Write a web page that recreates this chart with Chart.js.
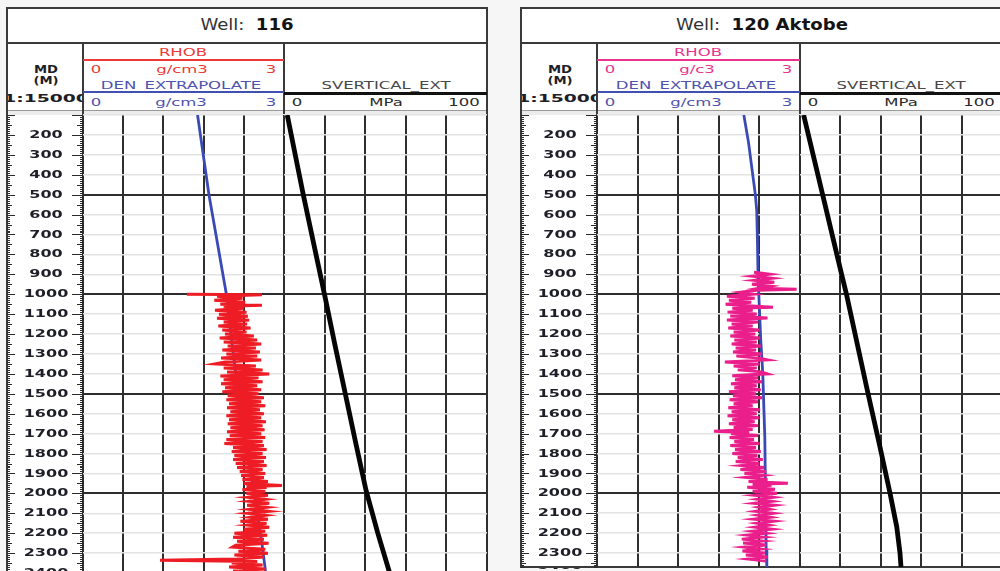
<!DOCTYPE html>
<html>
<head>
<meta charset="utf-8">
<script src="https://cdn.jsdelivr.net/npm/chart.js@4.4.1/dist/chart.umd.min.js"></script>
<style>
  html, body { margin: 0; padding: 0; }
  body {
    width: 1000px; height: 571px; overflow: hidden; position: relative;
    background: #f6f6f6; font-family: "DejaVu Sans", Verdana, sans-serif;
  }
  .box { position: absolute; box-sizing: border-box; background: #fff; }
  .ln { position: absolute; }
  .t {
    position: absolute; white-space: nowrap; line-height: 1;
    transform: translate(-50%, -50%) scaleX(1.5); font-size: 11px;
  }
  .clip { position: absolute; overflow: hidden; }
  canvas { position: absolute; }
</style>
</head>
<body>
<script>
// ---- shared axis values ----
const depthLabels = [200, 300, 400, 500, 600, 700, 800, 900, 1000, 1100, 1200, 1300,
  1400, 1500, 1600, 1700, 1800, 1900, 2000, 2100, 2200, 2300, 2400];
const depthGrid = [100, 200, 300, 400, 500, 600, 700, 800, 900, 1000, 1100, 1200, 1300,
  1400, 1500, 1600, 1700, 1800, 1900, 2000, 2100, 2200, 2300, 2400];
const densityTicks = [0, 0.6, 1.2, 1.8, 2.4, 3];
const stressTicks = [0, 20, 40, 60, 80, 100];

// ---- Well 116 ----
const w116DenDepth = [100, 500, 1000, 1290, 1450, 1760, 2000, 2185, 2250, 2380, 2450];
const w116Den = [1.71, 1.88, 2.14, 2.24, 2.30, 2.43, 2.56, 2.64, 2.67, 2.72, 2.74];

const w116RhobDepth = [
  1000, 1002, 1010, 1020, 1030, 1040, 1050, 1055, 1060, 1070, 1080, 1090,
  1100, 1110, 1120, 1130, 1140, 1150, 1160, 1170, 1180, 1190,
  1200, 1210, 1220, 1230, 1240, 1250, 1260, 1270, 1280, 1290,
  1300, 1310, 1320, 1330, 1340, 1350, 1360, 1370, 1380, 1390,
  1400, 1410, 1420, 1430, 1440, 1450, 1460, 1470, 1480, 1490,
  1500, 1510, 1520, 1530, 1540, 1550, 1560, 1570, 1580, 1590,
  1600, 1610, 1620, 1630, 1640, 1650, 1660, 1670, 1680, 1690,
  1700, 1710, 1720, 1730, 1740, 1750, 1760, 1770, 1780, 1790,
  1800, 1810, 1820, 1830, 1840, 1850, 1860, 1870, 1880, 1890,
  1900, 1910, 1920, 1930, 1940, 1950, 1960, 1965, 1970, 1980, 1990,
  2000, 2010, 2020, 2030, 2040, 2050, 2060, 2070, 2080, 2090,
  2100, 2110, 2120, 2130, 2140, 2150, 2160, 2170, 2180, 2190,
  2200, 2210, 2220, 2230, 2240, 2250, 2260, 2270, 2280, 2290,
  2300, 2310, 2320, 2330, 2336, 2342, 2350, 2360, 2370, 2380, 2390,
  2400, 2410, 2420, 2430, 2440, 2450];
const w116Rhob = [
  1.55, 2.67, 2.00, 2.38, 1.96, 2.42, 2.05, 2.67, 2.10, 2.40, 1.97, 2.44,
  2.03, 2.46, 2.00, 2.48, 2.10, 2.45, 2.02, 2.50, 2.08, 2.44,
  2.12, 2.55, 2.04, 2.60, 2.10, 2.66, 2.16, 2.58, 2.08, 2.64,
  2.14, 2.60, 2.06, 2.66, 2.12, 1.97, 2.58, 2.10, 2.68, 2.15,
  2.78, 2.05, 2.62, 2.10, 2.68, 2.06, 2.60, 2.12, 2.66, 2.08,
  2.62, 2.16, 2.70, 2.14, 2.66, 2.18, 2.72, 2.15, 2.64, 2.20,
  2.70, 2.14, 2.66, 2.18, 2.73, 2.16, 2.68, 2.20, 2.71, 2.15,
  2.66, 2.19, 2.72, 2.14, 2.68, 2.11, 2.70, 2.24, 2.74, 2.22,
  2.68, 2.26, 2.73, 2.24, 2.70, 2.28, 2.74, 2.30, 2.68, 2.34,
  2.72, 2.36, 2.70, 2.38, 2.76, 2.40, 2.97, 2.44, 2.74, 2.38, 2.72,
  2.44, 2.76, 2.46, 2.72, 2.48, 2.78, 2.45, 2.74, 2.49, 2.77,
  2.46, 2.72, 2.50, 2.76, 2.35, 2.74, 2.47, 2.78, 2.40, 2.72,
  2.26, 2.75, 2.24, 2.70, 2.30, 2.77, 2.28, 2.23, 2.72, 2.32,
  2.76, 2.26, 2.70, 2.30, 1.15, 2.60, 2.22, 2.68, 2.18, 2.72, 2.24,
  2.66, 2.20, 2.70, 2.26, 2.64, 2.22];

const w116SvDepth = [100, 500, 1013, 1250, 1500, 1750, 1984, 2200, 2391, 2450];
const w116Sv = [1.6, 9.5, 20.2, 25.0, 30.2, 35.4, 40.4, 46.2, 51.8, 53.5];

// ---- Well 120 Aktobe ----
const w120DenDepth = [100, 240, 500, 577, 713, 914, 1230, 1400, 1720, 2000, 2285, 2370];
const w120Den = [2.17, 2.24, 2.34, 2.36, 2.37, 2.38, 2.42, 2.45, 2.48, 2.49, 2.50, 2.51];

const w120RhobDepth = [
  890, 900, 910, 920, 930, 940, 950, 960, 970, 975, 980, 990,
  1000, 1010, 1020, 1030, 1040, 1050, 1060, 1065, 1070, 1080, 1090,
  1100, 1110, 1120, 1130, 1140, 1150, 1160, 1170, 1180, 1190,
  1200, 1210, 1220, 1230, 1240, 1250, 1260, 1270, 1280, 1290,
  1300, 1310, 1320, 1330, 1340, 1350, 1360, 1370, 1380, 1390,
  1400, 1410, 1420, 1430, 1440, 1450, 1460, 1470, 1480, 1490,
  1500, 1510, 1520, 1530, 1540, 1550, 1560, 1570, 1580, 1590,
  1600, 1610, 1620, 1630, 1640, 1650, 1660, 1670, 1680, 1688, 1695,
  1700, 1710, 1720, 1730, 1740, 1750, 1760, 1770, 1780, 1790,
  1800, 1810, 1820, 1830, 1840, 1850, 1860, 1870, 1880, 1890,
  1900, 1910, 1920, 1930, 1940, 1950, 1955, 1960, 1970, 1980, 1990,
  2000, 2010, 2020, 2030, 2040, 2050, 2060, 2070, 2080, 2090,
  2100, 2110, 2120, 2130, 2140, 2150, 2160, 2170, 2180, 2190,
  2200, 2210, 2220, 2230, 2240, 2250, 2260, 2270, 2280, 2290,
  2300, 2310, 2320, 2330, 2340];
const w120Rhob = [
  2.32, 2.55, 2.30, 2.58, 2.33, 2.62, 2.29, 2.56, 2.40, 2.95, 2.36, 2.12,
  2.30, 1.92, 2.33, 1.95, 2.28, 1.90, 2.35, 2.60, 2.00, 2.30, 1.93,
  2.36, 1.97, 2.52, 1.92, 2.38, 1.99, 2.30, 1.94, 2.40, 2.02,
  2.34, 1.97, 2.41, 2.03, 2.36, 1.99, 2.42, 2.05, 2.35, 2.01,
  2.44, 2.06, 2.38, 2.52, 1.89, 2.40, 2.02, 2.36, 2.08, 2.43,
  2.52, 2.00, 2.38, 2.04, 2.44, 1.98, 2.36, 2.03, 2.42, 1.95,
  2.35, 2.01, 2.44, 1.96, 2.38, 2.02, 2.30, 1.94, 2.41, 1.99,
  2.36, 1.93, 2.40, 2.00, 2.33, 1.95, 2.38, 2.02, 2.30, 1.73, 2.25,
  1.98, 2.38, 1.96, 2.32, 2.03, 2.40, 1.97, 2.35, 2.04, 2.42,
  2.00, 2.37, 2.08, 2.45, 2.05, 2.40, 2.14, 2.47, 2.12, 2.50,
  2.18, 2.45, 2.20, 2.52, 2.24, 2.82, 2.30, 2.58, 2.22, 2.63, 2.30,
  2.66, 2.34, 2.60, 2.38, 2.58, 2.33, 2.62, 2.40, 2.55, 2.35,
  2.60, 2.38, 2.56, 2.32, 2.61, 2.37, 2.54, 2.34, 2.58, 2.30,
  2.50, 2.22, 2.46, 2.14, 2.44, 2.16, 2.50, 2.18, 2.42, 2.15,
  2.48, 2.20, 2.52, 2.24, 2.50];

const w120SvDepth = [100, 500, 879, 1000, 1500, 1767, 2001, 2169, 2300, 2370];
const w120Sv = [1.8, 11.2, 20.1, 23.0, 33.7, 39.6, 44.6, 47.9, 49.5, 50.0];

// ---- layout constants ----
const TOP_DEPTH = 100;
const PX_PER_M = 0.199;
const DATA_TOP = 115;
const FRAME = '#3a3a3a';
const GRID_DARK = '#2e2e2e';
const GRID_LIGHT = '#e3e3e3';

function add(tag, cls, css, text) {
  const e = document.createElement(tag);
  if (cls) e.className = cls;
  Object.assign(e.style, css);
  if (text != null) e.textContent = text;
  document.body.appendChild(e);
  return e;
}
function hline(x1, x2, y, w, c) {
  add('div', 'ln', { left: x1 + 'px', top: (y - w / 2) + 'px', width: (x2 - x1) + 'px', height: w + 'px', background: c });
}
function vline(x, y1, y2, w, c) {
  add('div', 'ln', { left: (x - w / 2) + 'px', top: y1 + 'px', width: w + 'px', height: (y2 - y1) + 'px', background: c });
}
function txt(s, cx, cy, color, extra) {
  return add('div', 't', Object.assign({ left: cx + 'px', top: cy + 'px', color: color }, extra || {}), s);
}

// ruler ticks and depth numbers in the depth track, placed through the y scale
const depthRuler = {
  id: 'depthRuler',
  afterDraw(chart) {
    const s = chart.scales.y;
    const ctx = chart.ctx;
    const L = s.left, R = s.right;
    ctx.save();
    ctx.strokeStyle = '#2a2a2a';
    ctx.lineWidth = 1;
    ctx.beginPath();
    for (let d = Math.ceil(s.min / 10) * 10; d <= s.max; d += 10) {
      const y = Math.round(s.getPixelForValue(d)) + 0.5;
      const major = d % 100 === 0, mid = d % 50 === 0;
      const lenL = major ? 8 : mid ? 5 : 3;
      const lenR = major ? 11 : mid ? 6 : 3;
      ctx.moveTo(L, y); ctx.lineTo(L + lenL, y);
      ctx.moveTo(R - lenR, y); ctx.lineTo(R, y);
    }
    ctx.stroke();
    ctx.fillStyle = '#1e1e28';
    ctx.font = 'bold 10px "DejaVu Sans"';
    ctx.textAlign = 'center';
    ctx.textBaseline = 'middle';
    const cx = (L + R) / 2 + 1;
    depthLabels.forEach(v => {
      if (v < s.min || v > s.max + 60) return;
      const y = s.getPixelForValue(v);
      ctx.save();
      ctx.translate(cx, y + 0.5);
      ctx.scale(1.6, 1);
      ctx.fillText(String(v), 0, 0);
      ctx.restore();
    });
    ctx.restore();
  }
};

function depthScale(p, axisW) {
  return {
    type: 'linear', position: 'left', reverse: true, min: TOP_DEPTH, max: p.maxDepth,
    afterBuildTicks: s => { s.ticks = depthGrid.filter(v => v >= s.min && v <= s.max).map(v => ({ value: v })); },
    ticks: { display: false },
    grid: {
      drawTicks: false,
      color: c => (c.tick && c.tick.value % 500 === 0) ? GRID_DARK : GRID_LIGHT,
      lineWidth: c => (c.tick && c.tick.value % 500 === 0) ? 2 : 1.5
    },
    border: { display: false },
    afterFit: s => { s.width = axisW; }
  };
}
function valueScale(min, max, ticks) {
  return {
    type: 'linear', position: 'top', min: min, max: max,
    afterBuildTicks: s => { s.ticks = ticks.map(v => ({ value: v })); },
    ticks: { display: false },
    grid: { drawTicks: false, color: GRID_DARK, lineWidth: 2 },
    border: { display: false },
    afterFit: s => { s.height = 0; }
  };
}
function curve(depths, values, color, width) {
  return {
    data: depths.map((d, i) => ({ x: values[i], y: d })),
    showLine: true, borderColor: color, backgroundColor: color,
    borderWidth: width, pointRadius: 0, tension: 0
  };
}
function makeChart(left, top, w, h, pad, scales, datasets, plugins) {
  const c = document.createElement('canvas');
  c.width = w; c.height = h;
  c.style.left = left + 'px'; c.style.top = top + 'px';
  c.style.width = w + 'px'; c.style.height = h + 'px';
  document.body.appendChild(c);
  new Chart(c, {
    type: 'scatter',
    data: { datasets: datasets },
    options: {
      responsive: false, animation: false, devicePixelRatio: 1,
      layout: { padding: pad },
      plugins: { legend: { display: false }, tooltip: { enabled: false } },
      scales: scales
    },
    plugins: plugins || []
  });
}

function drawPanel(p) {
  const areaH = (p.maxDepth - TOP_DEPTH) * PX_PER_M;
  const bottom = DATA_TOP + areaH;
  const frameBottom = Math.min(bottom, 600);

  // frame and header boxes
  add('div', 'box', { left: p.x0 + 'px', top: '7px', width: (p.x1 - p.x0) + 'px', height: (frameBottom - 7) + 'px' });
  add('div', 'ln', { left: p.x0 + 'px', top: '110px', width: (p.x1 - p.x0) + 'px', height: '5px', background: '#ececec' });
  hline(p.x0 - 1, p.x1 + 1, 7.5, 2, FRAME);
  hline(p.x0, p.x1, 43, 1.5, FRAME);
  hline(p.x0, p.x1, 110, 1, '#9a9a9a');
  vline(p.x0, 7, frameBottom, 2, FRAME);
  vline(p.x1, 7, frameBottom, 2, FRAME);
  vline(p.xd, 43, DATA_TOP, 2, FRAME);
  vline(p.xs, 43, DATA_TOP, 2, FRAME);
  if (bottom < 571) hline(p.x0 - 1, p.x1 + 1, bottom, 2, FRAME);

  // title
  const title = add('div', 't', { left: ((p.x0 + p.x1) / 2) + 'px', top: '24.5px', fontSize: '16px', color: '#333',
    transform: 'translate(-50%, -50%) scaleX(1.13)' });
  title.appendChild(document.createTextNode('Well: '));
  const b = document.createElement('b');
  b.style.color = '#141414';
  b.style.marginLeft = '5px';
  b.textContent = p.well;
  title.appendChild(b);

  // depth header
  const dc = (p.x0 + p.xd) / 2 + 1;
  txt('MD', dc, 69, '#1e1e28', { fontWeight: 'bold', transform: 'translate(-50%, -50%) scaleX(1.2)' });
  txt('(M)', dc, 80, '#1e1e28', { fontWeight: 'bold', transform: 'translate(-50%, -50%) scaleX(1.2)' });
  const clip = add('div', 'clip', { left: (p.x0 + 1) + 'px', top: '90px', width: (p.xd - p.x0 - 2) + 'px', height: '16px' });
  const sc = add('div', 't', { left: (dc - p.x0 - 1) + 'px', top: '8px', fontWeight: 'bold', color: '#1e1e28',
    transform: 'translate(-50%, -50%) scaleX(1.7)' }, '1:15000');
  clip.appendChild(sc);

  // density header
  const mc = (p.xd + p.xs) / 2;
  txt('RHOB', mc - 1, 52, p.rhobColor);
  hline(p.xd, p.xs, 60, 2, p.rhobColor);
  txt('0', p.xd + 13, 69, p.rhobColor);
  txt(p.rhobUnit, mc - 2, 69, p.rhobColor);
  txt('3', p.xs - 13, 69, p.rhobColor);
  txt('DEN_EXTRAPOLATE', mc - 3, 85, '#4f52b0');
  hline(p.xd, p.xs, 92, 2, '#3f4fb2');
  txt('0', p.xd + 13, 102, '#4f52b0');
  txt('g/cm3', mc - 3, 102, '#4f52b0');
  txt('3', p.xs - 13, 102, '#4f52b0');

  // stress header
  const sm = (p.xs + p.x1) / 2;
  txt('SVERTICAL_EXT', sm, 85, '#484848');
  hline(p.xs, p.x1, 93, 3, '#111');
  txt('0', p.xs + 13, 102, '#2a2a2a');
  txt('MPa', sm, 102, '#2a2a2a');
  txt('100', p.x1 - 23, 102, '#2a2a2a');

  // density track with the depth axis on its left
  const axisW = p.xd - p.x0;
  const padD = { left: 2, right: 3, top: 2, bottom: 2 };
  const hD = Math.round(padD.top + areaH + padD.bottom);
  makeChart(p.x0 - padD.left, DATA_TOP - padD.top, padD.left + axisW + (p.xs - p.xd) + padD.right, hD, padD,
    { x: valueScale(0, 3, densityTicks), y: depthScale(p, axisW) },
    [curve(p.rhobDepth, p.rhob, p.rhobCurve, 3), curve(p.denDepth, p.den, '#3a4ab4', 2.8)],
    [depthRuler]);

  // stress track
  const padS = { left: 3, right: 3, top: 2, bottom: 2 };
  makeChart(p.xs - padS.left, DATA_TOP - padS.top, padS.left + (p.x1 - p.xs) + padS.right, hD, padS,
    { x: valueScale(0, 100, stressTicks), y: depthScale(p, 0) },
    [curve(p.svDepth, p.sv, '#050505', 4.8)]);
}

drawPanel({
  well: '116', x0: 7, xd: 83, xs: 284, x1: 487, maxDepth: 2450,
  rhobColor: '#ec3b36', rhobCurve: '#ee1c24', rhobUnit: 'g/cm3',
  denDepth: w116DenDepth, den: w116Den,
  rhobDepth: w116RhobDepth, rhob: w116Rhob,
  svDepth: w116SvDepth, sv: w116Sv
});
drawPanel({
  well: '120 Aktobe', x0: 521, xd: 597, xs: 800, x1: 1002, maxDepth: 2370,
  rhobColor: '#e8348f', rhobCurve: '#ea1f8c', rhobUnit: 'g/c3',
  denDepth: w120DenDepth, den: w120Den,
  rhobDepth: w120RhobDepth, rhob: w120Rhob,
  svDepth: w120SvDepth, sv: w120Sv
});
</script>
</body>
</html>
